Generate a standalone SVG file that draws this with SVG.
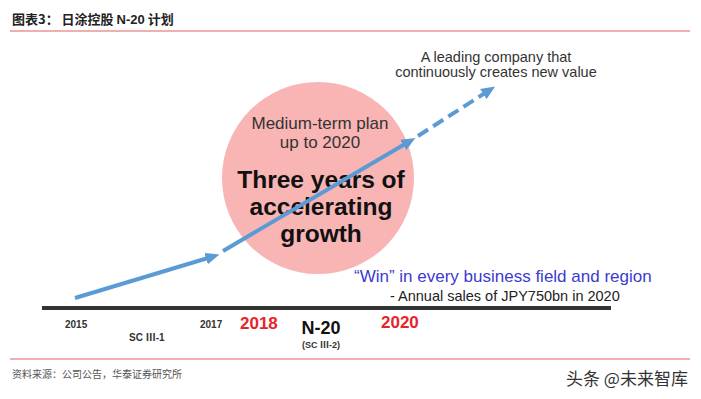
<svg xmlns="http://www.w3.org/2000/svg" width="701" height="399" viewBox="0 0 701 399">
<style>
.cjk{font-family:"Noto Sans CJK SC","Liberation Sans",sans-serif}
.s{font-family:"Liberation Sans","Noto Sans CJK SC",sans-serif}
.yr{font-size:10px;font-weight:bold;fill:#333}
.red{font-size:17px;font-weight:bold;fill:#e8232a}
.arr{stroke:#5b9bd5;stroke-width:4;fill:none}
</style>
<defs>
<marker id="ah" markerWidth="14" markerHeight="12" refX="2" refY="6" orient="auto" markerUnits="userSpaceOnUse">
<path d="M0,0 L14,6 L0,12 Z" fill="#5b9bd5"/>
</marker>
</defs>
<rect width="701" height="399" fill="#fff"/>
<g id="title">
<text x="12" y="24" class="cjk" font-size="13" font-weight="bold" fill="#222">图表3：  日涂控股 <tspan class="s">N-20</tspan> 计划</text>
<line x1="10" y1="31" x2="690" y2="31" stroke="#e06060" stroke-width="1"/>
</g>
<g id="circle">
<circle cx="318" cy="178" r="96" fill="#f9b4b4"/>
<text class="s" font-size="17" fill="#333" text-anchor="middle"><tspan x="320" y="129">Medium-term plan</tspan><tspan x="320" y="148">up to 2020</tspan></text>
<text class="s" font-size="24.5" font-weight="bold" fill="#111" text-anchor="middle"><tspan x="321" y="188">Three years of</tspan><tspan x="321" y="215">accelerating</tspan><tspan x="321" y="242">growth</tspan></text>
</g>
<g id="connectors">
<line class="arr" x1="75" y1="298" x2="208" y2="258" marker-end="url(#ah)"/>
<line class="arr" x1="223" y1="251" x2="405" y2="144" marker-end="url(#ah)"/>
<line class="arr" x1="418" y1="136" x2="485" y2="93" stroke-dasharray="12,6" marker-end="url(#ah)"/>
</g>
<g id="goal">
<text class="s" font-size="14.5" fill="#333" text-anchor="middle"><tspan x="496" y="62">A leading company that</tspan><tspan x="496" y="77">continuously creates new value</tspan></text>
</g>
<g id="win">
<text x="354" y="282" class="s" font-size="17" fill="#3b3bd0">“Win” in every business field and region</text>
<text x="390" y="301" class="s" font-size="14.5" fill="#222">- Annual sales of JPY750bn in 2020</text>
</g>
<g id="timeline">
<line x1="42" y1="308" x2="611" y2="308" stroke="#333" stroke-width="4"/>
<text x="65" y="328" class="s yr">2015</text>
<text x="129" y="341" class="s yr">SC Ⅲ-1</text>
<text x="200" y="328" class="s yr">2017</text>
<text x="240" y="329" class="s red">2018</text>
<text x="321" y="334" class="s" font-size="18" font-weight="bold" fill="#111" text-anchor="middle">N-20</text>
<text x="321" y="348" class="s" font-size="9" font-weight="bold" fill="#333" text-anchor="middle">(SC Ⅲ-2)</text>
<text x="381" y="328" class="s red">2020</text>
</g>
<g id="footer">
<line x1="10" y1="359" x2="690" y2="359" stroke="#e06060" stroke-width="1"/>
<text x="12" y="378" class="cjk" font-size="10" fill="#555">资料来源：公司公告，华泰证券研究所</text>
<text x="566" y="385" class="cjk" font-size="17" fill="#333">头条 @未来智库</text>
</g>
</svg>
